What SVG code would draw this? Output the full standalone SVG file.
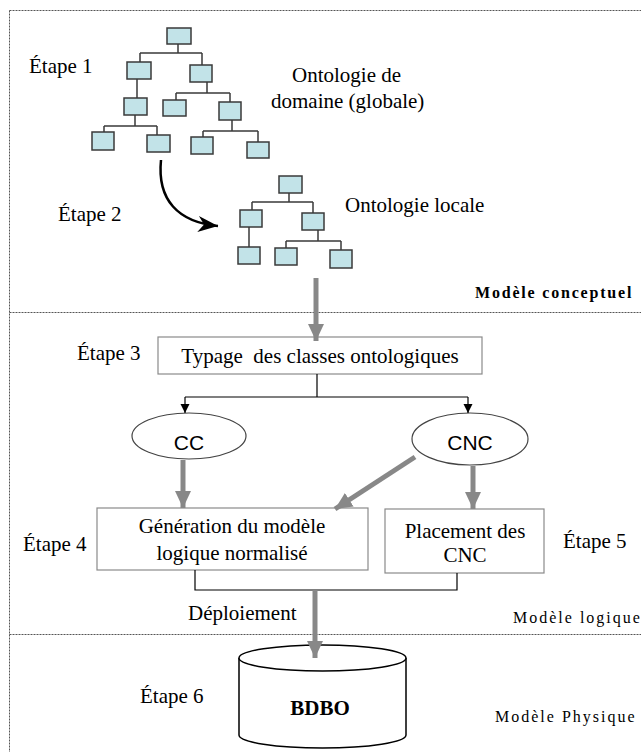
<svg xmlns="http://www.w3.org/2000/svg" width="641" height="752" viewBox="0 0 641 752">
<style>
.t{font-size:21px;fill:#000}
.m{font-size:16px;letter-spacing:2px;fill:#000}
.a{font-size:21px;fill:#000}
.c{text-anchor:middle}
.dash{stroke:#555;stroke-width:1;stroke-dasharray:2 1;fill:none}
.tb{fill:#c2e3e8;stroke:#3a3a3a;stroke-width:1.5}
.tl{stroke:#3a3a3a;stroke-width:1.5;fill:none}
.box{fill:#fff;stroke:#8a8a8a;stroke-width:1.2}
.ell{fill:#fff;stroke:#444;stroke-width:1.2}
.thin{stroke:#000;stroke-width:1.2;fill:none}
.gray{stroke:#888;stroke-width:5;fill:none}
</style>
<defs>
<marker id="gh" markerUnits="userSpaceOnUse" markerWidth="18" markerHeight="16" refX="17" refY="8" orient="auto">
<path d="M0,0 L17,8 L0,16 Z" fill="#888"/>
</marker>
<marker id="bh" markerUnits="userSpaceOnUse" markerWidth="10" markerHeight="10" refX="9" refY="4.5" orient="auto">
<path d="M0,0 L9,4.5 L0,9 Z" fill="#000"/>
</marker>
<marker id="ch" markerUnits="userSpaceOnUse" markerWidth="22" markerHeight="16" refX="20" refY="8" orient="auto">
<path d="M0,0 L20,8 L0,16 L6,8 Z" fill="#000"/>
</marker>
</defs>
<rect width="641" height="752" fill="#fff"/>
<g id="frame">
<path class="dash" d="M9.5,10.5 H641 M9.5,10.5 V752 M9.5,312.5 H641 M9.5,634.5 H641"/>
</g>
<g id="tree-global">
<path class="tl" d="M178,44 V53 M140,53 H202 M140,53 V62 M202,53 V65 M137,79 V98 M207,82 V93 M176,93 H230 M176,93 V100 M230,93 V102 M135,115 V126 M104,126 H157 M104,126 V132 M157,126 V135 M232,120 V131 M203,131 H258 M203,131 V137 M258,131 V142"/>
<rect class="tb" x="167" y="28" width="24" height="16"/>
<rect class="tb" x="127" y="62" width="24" height="17"/>
<rect class="tb" x="190" y="65" width="22" height="17"/>
<rect class="tb" x="124" y="98" width="23" height="17"/>
<rect class="tb" x="163" y="100" width="23" height="16"/>
<rect class="tb" x="219" y="102" width="22" height="18"/>
<rect class="tb" x="92" y="132" width="22" height="18"/>
<rect class="tb" x="147" y="135" width="23" height="17"/>
<rect class="tb" x="191" y="137" width="22" height="17"/>
<rect class="tb" x="247" y="142" width="22" height="16"/>
</g>
<g id="tree-local">
<path class="tl" d="M289,193 V202 M252,202 H313 M252,202 V210 M313,202 V213 M249,227 V247 M318,230 V241 M286,241 H341 M286,241 V248 M341,241 V250"/>
<rect class="tb" x="279" y="176" width="23" height="17"/>
<rect class="tb" x="240" y="210" width="22" height="17"/>
<rect class="tb" x="302" y="213" width="22" height="17"/>
<rect class="tb" x="238" y="247" width="22" height="17"/>
<rect class="tb" x="275" y="248" width="22" height="17"/>
<rect class="tb" x="330" y="250" width="22" height="18"/>
</g>
<g id="labels" font-family="Liberation Serif, Times New Roman, DejaVu Serif, serif">
<text class="t" x="29" y="73">Étape 1</text>
<text class="t" x="292" y="82">Ontologie de</text>
<text class="t" x="271" y="108">domaine (globale)</text>
<text class="t" x="58" y="221">Étape 2</text>
<text class="t" x="345" y="212">Ontologie locale</text>
<text class="m" x="475" y="298" font-weight="bold" style="letter-spacing:1.8px">Modèle conceptuel</text>
<text class="t" x="77" y="360">Étape 3</text>
<text class="t" x="23" y="551">Étape 4</text>
<text class="t" x="563" y="548">Étape 5</text>
<text class="t" x="188" y="620">Déploiement</text>
<text class="m" x="513" y="623">Modèle logique</text>
<text class="t" x="140" y="703">Étape 6</text>
<text class="m" x="495" y="722">Modèle Physique</text>
</g>
<g id="node-typage" font-family="Liberation Serif, Times New Roman, DejaVu Serif, serif">
<rect class="box" x="158" y="337" width="324" height="37"/>
<text class="t c" x="320" y="363" xml:space="preserve">Typage  des classes ontologiques</text>
</g>
<g id="node-cc" font-family="Liberation Sans, Arial, DejaVu Sans, sans-serif">
<ellipse class="ell" cx="189" cy="436" rx="57" ry="23"/>
<text class="a c" x="189" y="450">CC</text>
</g>
<g id="node-cnc" font-family="Liberation Sans, Arial, DejaVu Sans, sans-serif">
<ellipse class="ell" cx="470" cy="439" rx="58" ry="26"/>
<text class="a c" x="470" y="450">CNC</text>
</g>
<g id="node-generation" font-family="Liberation Serif, Times New Roman, DejaVu Serif, serif">
<rect class="box" x="97" y="508" width="271" height="62"/>
<text class="t c" x="232" y="533">Génération du modèle</text>
<text class="t c" x="232" y="560">logique normalisé</text>
</g>
<g id="node-placement" font-family="Liberation Serif, Times New Roman, DejaVu Serif, serif">
<rect class="box" x="385" y="509" width="159" height="64"/>
<text class="t c" x="465" y="538">Placement des</text>
<text class="t c" x="465" y="562">CNC</text>
</g>
<g id="node-bdbo" font-family="Liberation Serif, Times New Roman, DejaVu Serif, serif">
<path d="M239,658 V735 A83.5,13 0 0 0 406,735 V658" fill="#fff" stroke="#000" stroke-width="1.5"/>
<ellipse cx="322.5" cy="658" rx="83.5" ry="13" fill="#fff" stroke="#000" stroke-width="1.5"/>
<text class="t c" x="320" y="715" font-weight="bold">BDBO</text>
</g>
<g id="connectors">
<path d="M161,160 C157,200 178,222 218,226" stroke="#000" stroke-width="2.5" fill="none" marker-end="url(#ch)"/>
<path class="gray" d="M316,278 V341" marker-end="url(#gh)"/>
<path class="thin" d="M317,374 V397 M185,397 H468"/>
<path class="thin" d="M185,397 V413" marker-end="url(#bh)"/>
<path class="thin" d="M468,397 V413" marker-end="url(#bh)"/>
<path class="gray" d="M183,460 V508" marker-end="url(#gh)"/>
<path class="gray" d="M415,457 L335,509" marker-end="url(#gh)"/>
<path class="gray" d="M473,466 V509" marker-end="url(#gh)"/>
<path class="thin" d="M195,570 V590 H457 V573"/>
<path class="gray" d="M315,590 V658" marker-end="url(#gh)"/>
</g>
</svg>
